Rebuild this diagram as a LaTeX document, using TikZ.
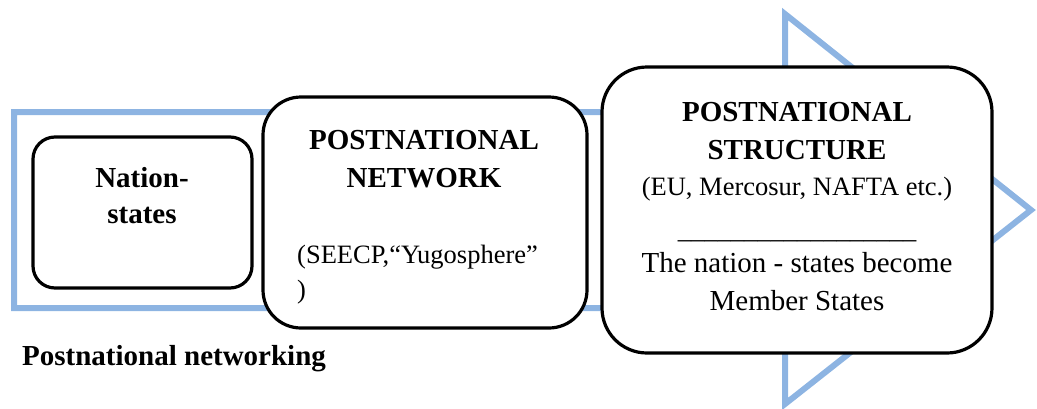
\documentclass[tikz,border=0pt]{standalone}
\usepackage{fontspec}
\setmainfont{Liberation Serif}
\definecolor{arrowblue}{RGB}{141,180,226}
\tikzset{
  stagebox/.style={draw=black, line width=3.2pt, fill=white, inner sep=0pt},
  boldtxt/.style={font=\fontsize{29}{34}\selectfont\bfseries, inner sep=0pt, anchor=base},
  plaintxt/.style={font=\fontsize{26.5}{32}\selectfont, inner sep=0pt, anchor=base},
  largetxt/.style={font=\fontsize{29}{34}\selectfont, inner sep=0pt, anchor=base},
}
\begin{document}
\begin{tikzpicture}[x=1pt, y=-1pt]
  \useasboundingbox (0,0) rectangle (1037,408);

  % wide outlined arrow behind the three stages
  \draw[arrowblue, line width=6pt, line join=miter, miter limit=10]
    (14,112) -- (785,112) -- (785,14) -- (1031,210) -- (785,404)
    -- (785,308) -- (14,308) -- cycle;

  % stage boxes
  \node[stagebox, rounded corners=22pt, minimum width=219pt, minimum height=151pt]
    (nation) at (142.5,212.5) {};
  \node[stagebox, rounded corners=38pt, minimum width=324pt, minimum height=231pt]
    (network) at (425,212.5) {};
  \node[stagebox, rounded corners=45pt, minimum width=390pt, minimum height=286pt]
    (structure) at (797,210) {};

  % first stage
  \node[boldtxt] (nation1) at (142,187) {Nation-};
  \node[boldtxt] (nation2) at (142,223) {states};

  % second stage
  \node[boldtxt] (net1) at (424,149) {POSTNATIONAL};
  \node[boldtxt] (net2) at (424,187) {NETWORK};
  \node[plaintxt, anchor=base west] (net3) at (297,263) {(SEECP,“Yugosphere”};
  \node[plaintxt, anchor=base west] (net4) at (297,298) {)};

  % third stage
  \node[boldtxt] (str1) at (797,121) {POSTNATIONAL};
  \node[boldtxt] (str2) at (797,159) {STRUCTURE};
  \node[plaintxt] (str3) at (797,195) {(EU, Mercosur, NAFTA etc.)};
  \node[plaintxt] (str4) at (797,238) {\textunderscore\textunderscore\textunderscore\textunderscore\textunderscore\textunderscore\textunderscore\textunderscore\textunderscore\textunderscore\textunderscore\textunderscore\textunderscore\textunderscore\textunderscore\textunderscore\textunderscore\textunderscore};
  \node[largetxt] (str5) at (797,272) {The nation - states become};
  \node[largetxt] (str6) at (797,310) {Member States};

  % caption
  \node[boldtxt, anchor=base west] (caption) at (22,365) {Postnational networking};
\end{tikzpicture}
\end{document}
